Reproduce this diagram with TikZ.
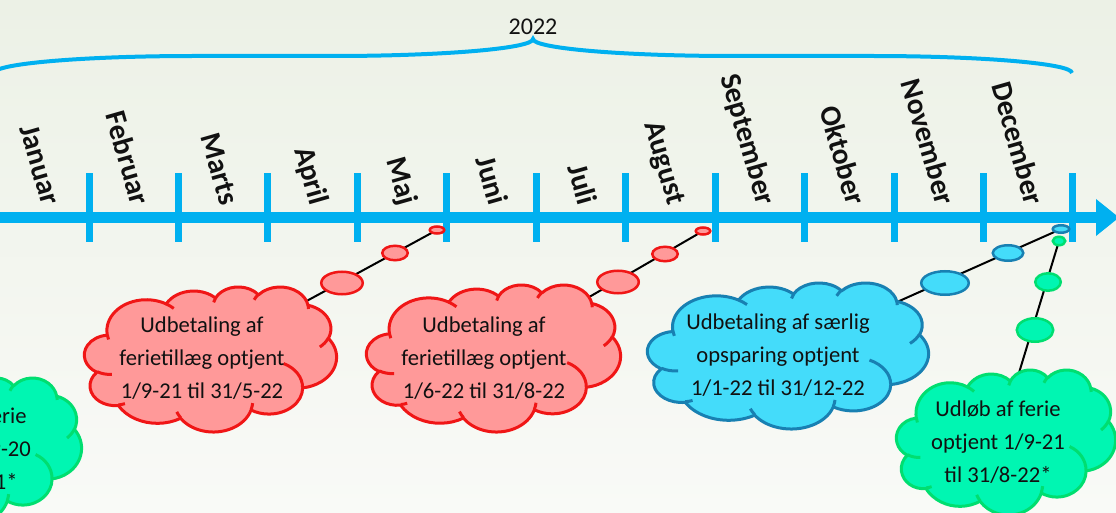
\documentclass[tikz,border=0pt]{standalone}
\usepackage{fontspec}
\setmainfont{Carlito}
\usetikzlibrary{shapes.geometric}

\pgfdeclarelayer{back}
\pgfdeclarelayer{links}
\pgfsetlayers{back,links,main}

\definecolor{axisblue}{RGB}{0,176,240}
\definecolor{redfill}{RGB}{255,153,153}
\definecolor{reddraw}{RGB}{240,22,22}
\definecolor{bluefill}{RGB}{68,220,250}
\definecolor{bluedraw}{RGB}{24,128,178}
\definecolor{greenfill}{RGB}{0,246,178}
\definecolor{greendraw}{RGB}{0,222,112}
\definecolor{bgtop}{RGB}{236,241,230}
\definecolor{bgbottom}{RGB}{249,250,247}
\definecolor{ink}{RGB}{17,17,17}

% Cloud outline drawn in a 432 x 432 box and stretched to width #3, height #4,
% top-left corner at (#1,#2); #5 is the style.
\newcommand{\cloudshape}[5]{%
  \pgfmathsetmacro\cloudsx{#3/432}%
  \pgfmathsetmacro\cloudsy{#4/432}%
  \begin{scope}[shift={(#1,#2)}, x=\cloudsx pt, y=-\cloudsy pt]
    \filldraw[#5] (39.00,143.70)
      arc[parc={67.53}{91.90}{-190.4875}{123.7805}]
      arc[parc={53.33}{72.67}{-144.1024}{89.9452}]
      arc[parc={43.65}{59.45}{-145.8079}{99.7230}]
      arc[parc={48.57}{65.95}{-130.9861}{117.2417}]
      arc[parc={53.33}{72.73}{-78.7089}{109.0269}]
      arc[parc={67.75}{92.20}{-46.2673}{130.2690}]
      arc[parc={57.85}{78.67}{0.6250}{114.0333}]
      arc[parc={67.52}{92.15}{22.4516}{115.1726}]
      arc[parc={77.20}{105.43}{66.2426}{75.7110}]
      arc[parc={43.60}{59.18}{-274.9421}{146.7356}]
      arc[parc={43.45}{59.45}{-246.8285}{152.5189}]
      -- cycle;
    \draw[#5, fill=none]
      (46.93,261.77) arc[parc={43.45}{59.45}{86.7420}{26.4295}]
      (69.28,348.99) arc[parc={43.60}{59.18}{73.6105}{11.4475}]
      (164.78,390.90) arc[parc={67.52}{92.15}{137.6242}{14.0811}]
      (288.27,347.51) arc[parc={67.52}{92.15}{6.4533}{15.9984}]
      (341.29,229.54) arc[parc={57.85}{78.67}{-70.2924}{70.9174}]
      (417.98,153.54) arc[parc={53.33}{72.73}{30.3180}{27.7515}]
      (383.24,54.26) arc[parc={48.57}{65.95}{-13.7443}{14.8589}]
      (290.78,39.52) arc[parc={48.57}{65.95}{-149.1815}{18.1954}]
      (221.41,47.20) arc[parc={43.65}{59.45}{-163.4943}{17.6864}]
      (140.00,51.92) arc[parc={67.53}{91.90}{-66.7070}{12.3194}]
      (41.27,157.89) arc[parc={67.53}{91.90}{157.6544}{11.8539}];
  \end{scope}}

\tikzset{
  parc/.style n args={4}{x radius=#1, y radius=#2,
    start angle={vang(#1,#2,#3)},
    delta angle={mod(vang(#1,#2,#3+#4)-vang(#1,#2,#3)+720,360)}},
  redcloud/.style={fill=redfill, draw=reddraw, line width=3pt, line join=round},
  bluecloud/.style={fill=bluefill, draw=bluedraw, line width=3pt, line join=round},
  greencloud/.style={fill=greenfill, draw=greendraw, line width=3pt, line join=round},
  bubble/.style={ellipse, inner sep=0pt, line width=2.5pt},
  redbubble/.style={bubble, fill=redfill, draw=reddraw},
  bluebubble/.style={bubble, fill=bluefill, draw=bluedraw},
  greenbubble/.style={bubble, fill=greenfill, draw=greendraw},
  connector/.style={draw=black, line width=2pt},
  cloudtext/.style={align=center, inner sep=0pt, text=ink,
    font=\fontsize{22.6}{33}\selectfont},
  month/.style={font=\fontsize{29.5}{31}\selectfont\bfseries, text=ink,
    rotate=-74, inner sep=0pt, anchor=mid east},
  yearlabel/.style={font=\fontsize{24}{26}\selectfont, text=ink, inner sep=0pt},
  yearbrace/.style={draw=axisblue, line width=4pt},
}

\begin{document}
\begin{tikzpicture}[x=1pt, y=-1pt,
  declare function={vang(\rx,\ry,\ang)=atan2(\rx*sin(\ang),\ry*cos(\ang));}]
  \useasboundingbox (0,0) rectangle (1116,513);

  % soft background
  \begin{pgfonlayer}{back}
    \shade[top color=bgtop, bottom color=bgbottom] (0,0) rectangle (1116,513);
  \end{pgfonlayer}

  % year brace and label
  \draw[yearbrace] (-6,73)
    arc[start angle=180, end angle=270, x radius=200, y radius=17]
    -- (333,56)
    arc[start angle=90, end angle=0, x radius=200, y radius=17]
    arc[start angle=180, end angle=90, x radius=200, y radius=17]
    -- (872,56)
    arc[start angle=270, end angle=360, x radius=200, y radius=17];
  \node[yearlabel] (year) at (533,27) {2022};

  % time axis
  \fill[axisblue] (0,212) rectangle (1097,223);
  \fill[axisblue] (1096,199) -- (1119,217.5) -- (1096,236) -- cycle;
  \foreach \k in {0,...,11}
    \fill[axisblue] ({89+89.45*\k-3.5},173) rectangle ++(7,69);

  % month names
  \foreach \m [count=\i] in {Januar,Februar,Marts,April,Maj,Juni,Juli,August,
      September,Oktober,November,December}
    \node[month] (m\i) at ({44.25+89.45*(\i-1)},206) {\m};

  % bubbles
  \node[redbubble, minimum width=14.5pt, minimum height=7pt] (r1a) at (437,230) {};
  \node[redbubble, minimum width=25.5pt, minimum height=14.5pt] (r1b) at (395,253) {};
  \node[redbubble, minimum width=41.5pt, minimum height=22.5pt] (r1c) at (342,283) {};

  \node[redbubble, minimum width=14.5pt, minimum height=7pt] (r2a) at (703,231) {};
  \node[redbubble, minimum width=25.5pt, minimum height=14.5pt] (r2b) at (665,254) {};
  \node[redbubble, minimum width=41.5pt, minimum height=22.5pt] (r2c) at (618,282) {};

  \node[bluebubble, minimum width=16.5pt, minimum height=7.5pt] (b1a) at (1061,229) {};
  \node[bluebubble, minimum width=30.5pt, minimum height=15.5pt] (b1b) at (1008,253) {};
  \node[bluebubble, minimum width=47.5pt, minimum height=23.5pt] (b1c) at (945,283) {};

  \node[greenbubble, minimum width=12.5pt, minimum height=8.5pt] (g1a) at (1059,241) {};
  \node[greenbubble, minimum width=25.5pt, minimum height=17.5pt] (g1b) at (1048,282) {};
  \node[greenbubble, minimum width=36.5pt, minimum height=23.5pt] (g1c) at (1035,330) {};

  % clouds
  \cloudshape{84.5}{286.5}{252}{145}{redcloud}
  \cloudshape{366.5}{284.5}{254}{147}{redcloud}
  \cloudshape{647.5}{282.5}{281}{146}{bluecloud}
  \cloudshape{-137.5}{377.5}{219}{145}{greencloud}
  \cloudshape{896.5}{369.5}{219}{145}{greencloud}

  \node[cloudtext] (t1) at (202,358) {Udbetaling af\\ferietillæg optjent\\1/9-21 til 31/5-22};
  \node[cloudtext] (t2) at (484,358) {Udbetaling af\\ferietillæg optjent\\1/6-22 til 31/8-22};
  \node[cloudtext] (t3) at (778,355) {Udbetaling af særlig\\opsparing optjent\\1/1-22 til 31/12-22};
  \node[cloudtext] (t4) at (-36,449) {Udløb af ferie\\optjent 1/9-20\\til 31/8-21*};
  \node[cloudtext] (t5) at (998,442) {Udløb af ferie\\optjent 1/9-21\\til 31/8-22*};

  % connectors behind bubbles and clouds
  \begin{pgfonlayer}{links}
    \draw[connector] (r1a.center) -- (t1.center);
    \draw[connector] (r2a.center) -- (t2.center);
    \draw[connector] (b1a.center) -- (t3.center);
    \draw[connector] (g1a.center) -- (t5.center);
  \end{pgfonlayer}
\end{tikzpicture}
\end{document}
